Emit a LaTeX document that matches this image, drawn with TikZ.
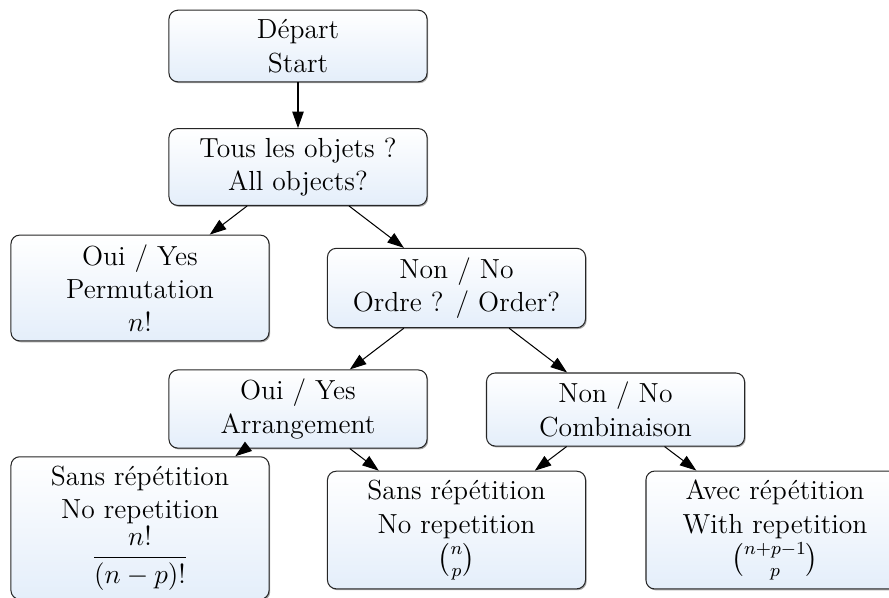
\documentclass[tikz,border=0pt]{standalone}
\usepackage{amsmath}
\usetikzlibrary{shadows,arrows.meta}
\definecolor{boxbot}{RGB}{228,238,250}
\tikzset{
  box/.style={draw=black!85, line width=0.45pt, rounded corners=3.8pt,
    top color=white, bottom color=boxbot, align=center,
    minimum width=112.2pt, inner sep=4pt,
    font=\fontsize{12}{14.5}\selectfont,
    drop shadow={shadow xshift=0.5pt, shadow yshift=-0.6pt, opacity=0.35, fill=black}},
  link/.style={-{Triangle[length=7.2pt,width=5pt]}, line width=0.45pt}
}
\begin{document}
\begin{tikzpicture}[x=0.4348pt,y=-0.4348pt]
\useasboundingbox (0,0) rectangle (889,597);
\node[box] (dep) at (298,46) {Départ\\Start};
\node[box] (tous) at (298,167) {Tous les objets ?\\All objects?};
\node[box] (perm) at (140,288) {Oui / Yes\\Permutation\\$n!$};
\node[box] (ordre) at (456.5,288) {Non / No\\Ordre ? / Order?};
\node[box] (arr) at (298,409) {Oui / Yes\\Arrangement};
\node[box] (comb) at (615.5,409.5) {Non / No\\Combinaison};
\node[box] (bl) at (140,528) {Sans répétition\\No repetition\\$\dfrac{n!}{(n-p)!}$};
\node[box] (mid) at (456.5,530) {Sans répétition\\No repetition\\$\binom{n}{p}$};
\node[box] (rgt) at (775,530) {Avec répétition\\With repetition\\$\binom{n+p-1}{p}$};
\draw[link] (dep) -- (tous);
\draw[link] (tous) -- (perm);
\draw[link] (tous) -- (ordre);
\draw[link] (ordre) -- (arr);
\draw[link] (ordre) -- (comb);
\draw[link] (arr) -- (bl);
\draw[link] (arr) -- (mid);
\draw[link] (comb) -- (mid);
\draw[link] (comb) -- (rgt);
\end{tikzpicture}
\end{document}
